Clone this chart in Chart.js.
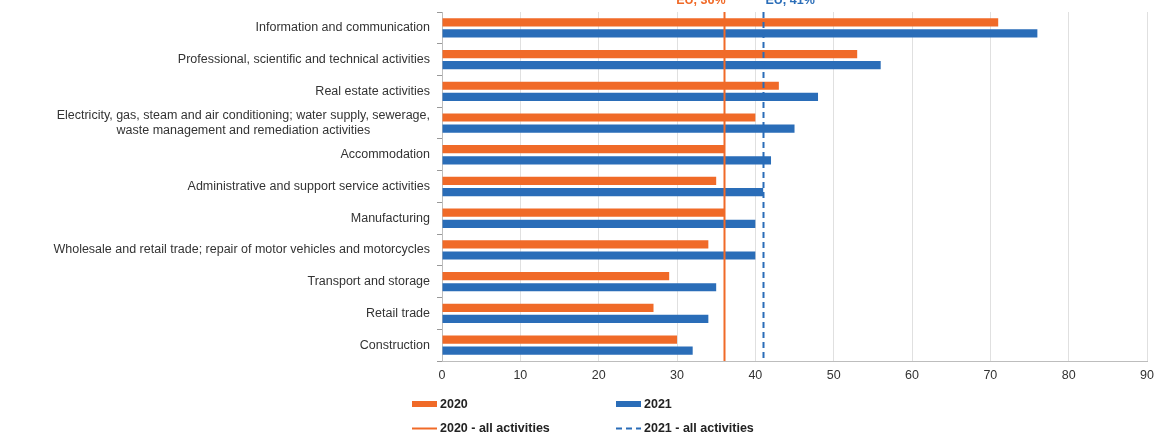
<!DOCTYPE html>
<html>
<head>
<meta charset="utf-8">
<script src="https://cdn.jsdelivr.net/npm/chart.js@4/dist/chart.umd.min.js"></script>
<style>
  html, body { margin: 0; padding: 0; background: #fff; }
  canvas { display: block; }
</style>
</head>
<body>
<canvas id="sectorChart" width="1161" height="437"></canvas>
<script>
// enterprises by economic activity, % (EU)
const categories = [
    'Information and communication',
    'Professional, scientific and technical activities',
    'Real estate activities',
    ['Electricity, gas, steam and air conditioning; water supply, sewerage,',
     'waste management and remediation activities'],
    'Accommodation',
    'Administrative and support service activities',
    'Manufacturing',
    'Wholesale and retail trade; repair of motor vehicles and motorcycles',
    'Transport and storage',
    'Retail trade',
    'Construction'
];
const values2020 = [71, 53, 43, 40, 36, 35, 36, 34, 29, 27, 30];
const values2021 = [76, 56, 48, 45, 42, 41, 40, 40, 35, 34, 32];

// EU average over all activities
const allActivities = [36, 41];
const allActivitiesLabels = ['EU, 36%', 'EU, 41%'];
const seriesNames = ['2020', '2021'];
const lineNames = ['2020 - all activities', '2021 - all activities'];

const ORANGE = '#f06a28';
const BLUE = '#2a6db8';
const FONT = '"Liberation Sans", Arial, sans-serif';

// category labels: right aligned, wrapped lines centred in their block
const categoryLabels = {
    id: 'categoryLabels',
    afterDraw(chart) {
        const ctx = chart.ctx;
        const y = chart.scales.y;
        const right = chart.chartArea.left - 12;
        ctx.save();
        ctx.font = '12.5px ' + FONT;
        ctx.fillStyle = '#333';
        ctx.textBaseline = 'middle';
        ctx.textAlign = 'center';
        chart.data.labels.forEach((lbl, i) => {
            const lines = Array.isArray(lbl) ? lbl : [lbl];
            const w = Math.max(...lines.map(l => ctx.measureText(l).width));
            const cy = y.getPixelForValue(i);
            const lh = 15.5;
            lines.forEach((l, k) => {
                ctx.fillText(l, right - w / 2, cy + (k - (lines.length - 1) / 2) * lh);
            });
        });
        ctx.restore();
    }
};

// average lines over the bars, with their labels
const averageLines = {
    id: 'averageLines',
    afterDatasetsDraw(chart) {
        const ctx = chart.ctx;
        const x = chart.scales.x;
        const area = chart.chartArea;
        const colors = [ORANGE, BLUE];
        ctx.save();
        allActivities.forEach((v, i) => {
            const px = Math.round(x.getPixelForValue(v)) + 0.5;
            ctx.strokeStyle = colors[i];
            ctx.lineWidth = 2;
            ctx.setLineDash(i === 1 ? [6, 4] : []);
            ctx.beginPath();
            ctx.moveTo(px, area.top);
            ctx.lineTo(px, area.bottom);
            ctx.stroke();

            ctx.setLineDash([]);
            ctx.font = 'bold 12.5px ' + FONT;
            ctx.fillStyle = colors[i];
            ctx.textBaseline = 'alphabetic';
            ctx.textAlign = i === 0 ? 'right' : 'left';
            ctx.fillText(allActivitiesLabels[i], i === 0 ? px + 1 : px + 2, 4);
        });
        ctx.restore();
    }
};

// two column legend below the axis
const legendBlock = {
    id: 'legendBlock',
    afterDraw(chart) {
        const ctx = chart.ctx;
        const colors = [ORANGE, BLUE];
        const cols = [412, 616];
        ctx.save();
        ctx.font = 'bold 12.5px ' + FONT;
        ctx.textBaseline = 'middle';
        ctx.textAlign = 'left';
        seriesNames.forEach((name, i) => {
            ctx.fillStyle = colors[i];
            ctx.fillRect(cols[i], 401, 25, 6);
            ctx.fillStyle = '#222';
            ctx.fillText(name, cols[i] + 28, 404.5);
        });
        lineNames.forEach((name, i) => {
            ctx.strokeStyle = colors[i];
            ctx.lineWidth = 2;
            ctx.setLineDash(i === 1 ? [6, 4] : []);
            ctx.beginPath();
            ctx.moveTo(cols[i], 428.5);
            ctx.lineTo(cols[i] + 25, 428.5);
            ctx.stroke();
            ctx.setLineDash([]);
            ctx.fillStyle = '#222';
            ctx.fillText(name, cols[i] + 28, 428.5);
        });
        ctx.restore();
    }
};

new Chart(document.getElementById('sectorChart').getContext('2d'), {
    type: 'bar',
    data: {
        labels: categories,
        datasets: [
            {
                label: seriesNames[0],
                data: values2020,
                backgroundColor: ORANGE,
                barPercentage: 0.74,
                categoryPercentage: 0.7
            },
            {
                label: seriesNames[1],
                data: values2021,
                backgroundColor: BLUE,
                barPercentage: 0.74,
                categoryPercentage: 0.7
            }
        ]
    },
    options: {
        indexAxis: 'y',
        responsive: false,
        animation: false,
        layout: { padding: { top: 12, right: 13, bottom: 0, left: 0 } },
        plugins: {
            legend: { display: false },
            tooltip: { enabled: false }
        },
        scales: {
            x: {
                min: 0,
                max: 90,
                ticks: {
                    stepSize: 10,
                    padding: 7,
                    color: '#333',
                    font: { family: FONT, size: 12.5 }
                },
                grid: { color: '#e0e0e0', drawTicks: false, tickLength: 0 },
                border: { color: '#bdbdbd' },
                afterFit(scale) { scale.height = 76; }
            },
            y: {
                ticks: { display: false },
                grid: {
                    drawOnChartArea: false,
                    drawTicks: true,
                    tickLength: 5,
                    color: '#999'
                },
                border: { color: '#bdbdbd' },
                afterFit(scale) { scale.width = 442; }
            }
        }
    },
    plugins: [categoryLabels, averageLines, legendBlock]
});
</script>
</body>
</html>
